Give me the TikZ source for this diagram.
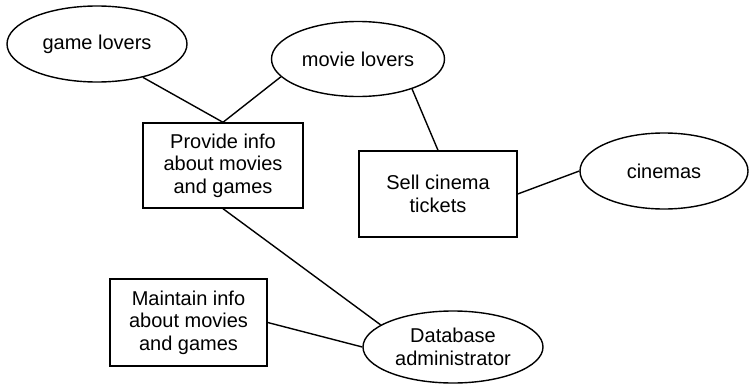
\documentclass[tikz,border=0pt]{standalone}
\usepackage{fontspec}
\setmainfont{Liberation Sans}
\usetikzlibrary{shapes.geometric}
\begin{document}
\begin{tikzpicture}[x=1pt,y=-1pt,
  every node/.style={font=\fontsize{20}{22.5}\selectfont, align=center, inner sep=0pt},
  actor/.style={draw, line width=1.4pt, ellipse},
  usecase/.style={draw, line width=1.4pt, rectangle},
  link/.style={line width=1.4pt}]
\useasboundingbox (0,0) rectangle (752,388);
\node[actor, minimum width=180pt, minimum height=76pt] (gl) at (97,44) {game lovers};
\node[actor, minimum width=173pt, minimum height=75pt] (ml) at (358,59) {movie lovers};
\node[actor, minimum width=168pt, minimum height=76pt] (cin) at (664,171) {cinemas};
\node[actor, minimum width=180pt, minimum height=72pt] (db) at (453,347) {Database\\administrator};
\node[usecase, minimum width=160pt, minimum height=85pt] (prov) at (223,165.5) {Provide info\\about movies\\and games};
\node[usecase, minimum width=158pt, minimum height=86pt] (sell) at (438,194) {Sell cinema\\tickets};
\node[usecase, minimum width=157pt, minimum height=87pt] (maint) at (188.5,322.5) {Maintain info\\about movies\\and games};
\draw[link] (gl.-36) -- (prov.north);
\draw[link] (ml.193) -- (prov.north);
\draw[link] (ml.-29) -- (sell.north);
\draw[link] (sell.east) -- (cin.west);
\draw[link] (prov.south) -- (db.163);
\draw[link] (maint.east) -- (db.west);
\end{tikzpicture}
\end{document}
